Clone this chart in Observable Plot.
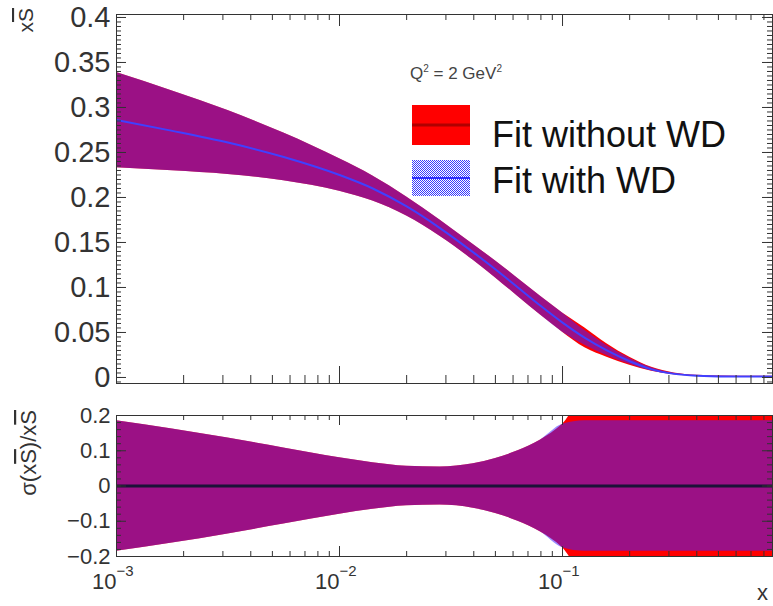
<!DOCTYPE html>
<html><head><meta charset="utf-8">
<script src="https://cdn.jsdelivr.net/npm/d3@7"></script>
<script src="https://cdn.jsdelivr.net/npm/@observablehq/plot@0.6"></script>
<style>
body{margin:0;background:#fff;}
#wrap{position:relative;width:773px;height:606px;overflow:hidden;background:#fff;font-family:"Liberation Sans",Arial,sans-serif;}
#wrap svg{position:absolute;left:0;}
</style></head><body>
<div id="wrap"></div>
<script>
// ---- data ----
const xGrid = [0.001,0.00178,0.00316,0.00562,0.01,0.0141,0.02,0.0282,0.0398,0.0501,0.0631,0.0794,0.1,0.126,0.158,0.2,0.251,0.316,0.398,0.631,1.0];
const centralWD = [0.286,0.274,0.261,0.245,0.225,0.210,0.190,0.166,0.139,0.120,0.100,0.080,0.061,0.044,0.030,0.018,0.009,0.004,0.002,0.001,0.001];
const lowerWD = [0.2331,0.2296,0.2255,0.2185,0.207,0.1961,0.1794,0.157,0.1302,0.1106,0.090,0.0696,0.0503,0.0359,0.0245,0.0147,0.0073,0.0033,0.0016,0.0008,0.0008];
const upperWD = [0.3389,0.3184,0.2965,0.2715,0.243,0.2239,0.2006,0.175,0.1478,0.1294,0.110,0.0904,0.0717,0.0521,0.0356,0.0213,0.0107,0.0047,0.0024,0.0012,0.0012];
const lowerNoWD = [0.2331,0.2296,0.2255,0.2185,0.207,0.1961,0.1794,0.157,0.1302,0.1106,0.090,0.0696,0.0503,0.033,0.0225,0.0135,0.0068,0.003,0.0015,0.0008,0.0008];
const upperNoWD = [0.3389,0.3184,0.2965,0.2715,0.243,0.2239,0.2006,0.175,0.1478,0.1294,0.110,0.0904,0.0717,0.055,0.0375,0.0225,0.0113,0.005,0.0025,0.0013,0.0013];
const ratioUpperWD = [0.185,0.162,0.136,0.108,0.080,0.066,0.056,0.054,0.063,0.078,0.100,0.130,0.175,0.185,0.185,0.185,0.185,0.185,0.185,0.185,0.185];
const ratioLowerWD = [-0.185,-0.162,-0.136,-0.108,-0.080,-0.066,-0.056,-0.054,-0.063,-0.078,-0.100,-0.130,-0.175,-0.185,-0.185,-0.185,-0.185,-0.185,-0.185,-0.185,-0.185];
const ratioUpperNoWD = [0.185,0.162,0.136,0.108,0.080,0.066,0.056,0.054,0.063,0.078,0.100,0.130,0.175,0.25,0.25,0.25,0.25,0.25,0.25,0.25,0.25];
const ratioLowerNoWD = [-0.185,-0.162,-0.136,-0.108,-0.080,-0.066,-0.056,-0.054,-0.063,-0.078,-0.100,-0.130,-0.175,-0.25,-0.25,-0.25,-0.25,-0.25,-0.25,-0.25,-0.25];

const xMajorTicks = [0.001, 0.01, 0.1];
const xTickExponents = ["\u22123", "\u22122", "\u22121"];
const xMinorTicks = [0.002,0.003,0.004,0.005,0.006,0.007,0.008,0.009,0.02,0.03,0.04,0.05,0.06,0.07,0.08,0.09,0.2,0.3,0.4,0.5,0.6,0.7,0.8];
const yTopLabels = [0,0.05,0.1,0.15,0.2,0.25,0.3,0.35,0.4];
const yBottomLabels = [-0.2,-0.1,0,0.1,0.2];
const legendLabels = ["Fit without WD", "Fit with WD"];

// ---- tables ----
const topData = xGrid.map((x, i) => ({x, c: centralWD[i], lo: lowerWD[i], hi: upperWD[i], lo0: lowerNoWD[i], hi0: upperNoWD[i]}));
const botData = xGrid.map((x, i) => ({x, lo: ratioLowerWD[i], hi: ratioUpperWD[i], lo0: ratioLowerNoWD[i], hi0: ratioUpperNoWD[i]}));

const W = 773, ML = 116, MR = 1;
const innerW = W - ML - MR;
const xDomain = [0.001, 0.874];
const tickColor = "#333";
const font = "'Liberation Sans', Arial, sans-serif";
const redFill = "#ff0000";
const blueFill = "#4020ff";
const blueOpacity = 0.52;

function xTicks(inner, bMaj, bMin, tMaj, tMin) {
  return [
    Plot.ruleX(xMajorTicks, {x: d => d, insetTop: inner - bMaj, stroke: tickColor}),
    Plot.ruleX(xMinorTicks, {x: d => d, insetTop: inner - bMin, stroke: tickColor}),
    Plot.ruleX(xMajorTicks, {x: d => d, insetBottom: inner - tMaj, stroke: tickColor}),
    Plot.ruleX(xMinorTicks, {x: d => d, insetBottom: inner - tMin, stroke: tickColor})
  ];
}
function yTicks(major, minor, maj, min) {
  return [
    Plot.ruleY(major, {y: d => d, insetRight: innerW - maj, stroke: tickColor}),
    Plot.ruleY(minor, {y: d => d, insetRight: innerW - min, stroke: tickColor}),
    Plot.ruleY(major, {y: d => d, insetLeft: innerW - maj, stroke: tickColor}),
    Plot.ruleY(minor, {y: d => d, insetLeft: innerW - min, stroke: tickColor})
  ];
}

// ---- top panel ----
const H1 = 395, MT1 = 14, MB1 = 12;
const inner1 = H1 - MT1 - MB1;
const yTopMinor = d3.range(-0.005, 0.403, 0.005);
const topPanel = Plot.plot({
  width: W, height: H1,
  marginLeft: ML, marginRight: MR, marginTop: MT1, marginBottom: MB1,
  style: {fontFamily: font, background: "transparent"},
  x: {type: "log", domain: xDomain, axis: null},
  y: {domain: [-0.0067, 0.4033], axis: null},
  marks: [
    Plot.areaY(topData, {x: "x", y1: "lo0", y2: "hi0", fill: redFill, curve: "monotone-x", clip: true}),
    Plot.areaY(topData, {x: "x", y1: "lo", y2: "hi", fill: blueFill, fillOpacity: blueOpacity, curve: "monotone-x", clip: true}),
    Plot.line(topData, {x: "x", y: "c", stroke: "#4040ff", strokeWidth: 2, curve: "monotone-x", clip: true}),
    ...xTicks(inner1, 17, 8, 12, 6),
    ...yTicks(yTopLabels, yTopMinor, 10, 5),
    Plot.frame({stroke: "#333"}),
    Plot.axisY(yTopLabels, {anchor: "left", tickSize: 0, tickPadding: 6, fontSize: 29, fill: "#333", label: null, tickFormat: d => String(d)})
  ]
});
topPanel.style.top = "0px";

// ---- bottom panel ----
const H2 = 211, MT2 = 20, MB2 = 50;
const inner2 = H2 - MT2 - MB2;
const yBotMinor = d3.range(-0.2, 0.201, 0.02);
const bottomPanel = Plot.plot({
  width: W, height: H2,
  marginLeft: ML, marginRight: MR, marginTop: MT2, marginBottom: MB2,
  style: {fontFamily: font, background: "transparent"},
  x: {type: "log", domain: xDomain, axis: null},
  y: {domain: [-0.2, 0.2], axis: null},
  marks: [
    Plot.areaY(botData, {x: "x", y1: "lo0", y2: "hi0", fill: redFill, curve: "monotone-x", clip: true}),
    Plot.areaY(botData, {x: "x", y1: "lo", y2: "hi", fill: blueFill, fillOpacity: blueOpacity, curve: "monotone-x", clip: true}),
    Plot.ruleY([0], {stroke: "#1b1238", strokeWidth: 3}),
    ...xTicks(inner2, 10, 5, 10, 5),
    ...yTicks(yBottomLabels, yBotMinor, 10, 5),
    Plot.frame({stroke: "#333"}),
    Plot.axisY(yBottomLabels, {anchor: "left", tickSize: 0, tickPadding: 6, fontSize: 22, fill: "#333", label: null,
      tickFormat: d => d < 0 ? "\u2212" + Math.abs(d) : String(d)}),
    Plot.text(xMajorTicks, {x: d => d, text: () => "10", frameAnchor: "bottom", lineAnchor: "middle", dy: 25, dx: 0, textAnchor: "end", fontSize: 22, fill: "#333"}),
    Plot.text(xMajorTicks, {x: d => d, text: (d, i) => xTickExponents[i], frameAnchor: "bottom", lineAnchor: "middle", dy: 15, dx: 0, textAnchor: "start", fontSize: 15, fill: "#333"})
  ]
});
bottomPanel.style.top = H1 + "px";

const wrap = document.getElementById("wrap");
wrap.appendChild(topPanel);
wrap.appendChild(bottomPanel);

// ---- overlay: axis titles, annotation, legend ----
const NS = "http://www.w3.org/2000/svg";
const ov = document.createElementNS(NS, "svg");
ov.setAttribute("width", W); ov.setAttribute("height", 606);
ov.style.top = "0px";
ov.setAttribute("font-family", "Liberation Sans, Arial, sans-serif");
ov.innerHTML = `
  <defs><pattern id="hatchLegend" x="0" y="0" width="2" height="2" patternUnits="userSpaceOnUse">
    <rect x="0" y="0" width="2" height="2" fill="#ffffff"/>
    <rect x="0" y="0" width="1" height="1" fill="#3a3aff"/><rect x="1" y="1" width="1" height="1" fill="#3a3aff"/>
  </pattern></defs>
  <text transform="translate(33,8) rotate(-90)" text-anchor="end" font-size="21" fill="#333">x<tspan style="text-decoration:overline">S</tspan></text>
  <text transform="translate(36,410) rotate(-90)" text-anchor="end" font-size="22" fill="#333">σ(x<tspan style="text-decoration:overline">S</tspan>)/x<tspan style="text-decoration:overline">S</tspan></text>
  <text x="410" y="79" font-size="17" fill="#444">Q<tspan dy="-7" font-size="10">2</tspan><tspan dy="7"> = 2 GeV</tspan><tspan dy="-7" font-size="10">2</tspan></text>
  <rect x="412" y="105" width="58" height="40" fill="#ff0000"/>
  <rect x="412" y="123.5" width="58" height="3" fill="#b00000"/>
  <rect x="412" y="160" width="58" height="36" fill="url(#hatchLegend)"/>
  <rect x="412" y="177" width="58" height="2" fill="#2a2aff"/>
  <text x="492" y="147" font-size="36" fill="#111">${legendLabels[0]}</text>
  <text x="492" y="193" font-size="36" fill="#111">${legendLabels[1]}</text>
  <text x="757" y="600" font-size="22" fill="#333">x</text>
`;
wrap.appendChild(ov);
</script>
</body></html>
